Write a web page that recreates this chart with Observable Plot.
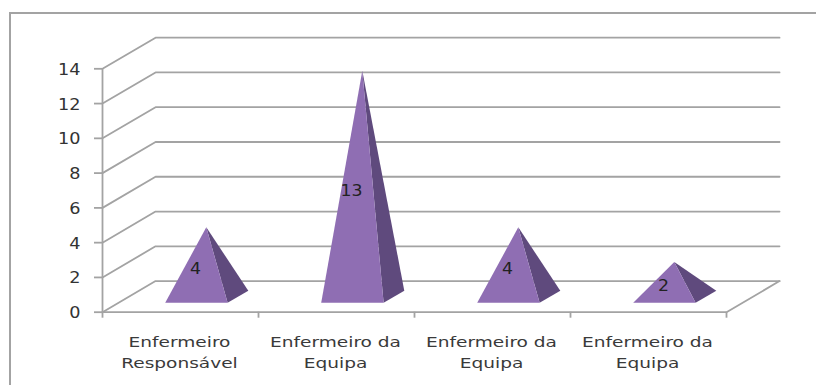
<!DOCTYPE html>
<html>
<head>
<meta charset="utf-8">
<script src="https://cdn.jsdelivr.net/npm/d3@7"></script>
<script src="https://cdn.jsdelivr.net/npm/@observablehq/plot@0.6"></script>
<style>
  html, body { margin: 0; padding: 0; background: #fff; }
  #chart { position: relative; width: 816px; height: 385px; overflow: hidden; }
  #outline { position: absolute; left: 9px; top: 12px; right: -4px; bottom: -4px;
             border-left: 2px solid #a3a3a3; border-top: 2px solid #a3a3a3; }
  #chart svg { position: absolute; left: 0; top: 0; }
</style>
</head>
<body>
<div id="chart"><div id="outline"></div></div>
<script>
// Survey results by nursing role
const categories = ["Enfermeiro\nResponsável", "Enfermeiro da\nEquipa", "Enfermeiro da\nEquipa", "Enfermeiro da\nEquipa"];
const values = [4, 13, 4, 2];
const valueTicks = [0, 2, 4, 6, 8, 10, 12, 14];
const slotTicks = [0, 1, 2, 3, 4];

// Oblique projection: one unit of depth shifts a point along both axes
const depthX = 0.34;
const depthY = 1.79;
const project = (slot, depth, value) => ({x: slot + depth * depthX, y: value + depth * depthY});

// Pyramid footprint inside its slot and its depth range
const inset = 0.3;
const front = 0.3;
const back = 0.69;
const apexSlot = 0.497;

const frontFaces = values.flatMap((v, i) => [
  project(i + inset, front, 0),
  project(i + 1 - inset, front, 0),
  project(i + apexSlot, (front + back) / 2, v)
].map(p => ({...p, id: i})));

const sideFaces = values.flatMap((v, i) => [
  project(i + 1 - inset, front, 0),
  project(i + 1 - inset, back, 0),
  project(i + apexSlot, (front + back) / 2, v)
].map(p => ({...p, id: i})));

// Wall and floor lines: each tick runs from the front plane to the back wall and across
const wallLines = valueTicks.flatMap(t => [
  {...project(0, 0, t), id: t},
  {...project(0, 1, t), id: t},
  {...project(4, 1, t), id: t}
]);
const floorEdge = [project(0, 0, 0), project(4, 0, 0), project(4, 1, 0)];

const labels = values.map((v, i) => ({...project(i + 0.5, front, v / 2), text: String(v)}));
const slotLabels = categories.map((c, i) => ({x: i + 0.5, y: 0, text: c}));

// Widens glyphs about their anchor point and nudges them vertically
const widen = (k, nudge = 0) => (index, scales, values, dims, context, next) => {
  const g = next(index, scales, values, dims, context);
  d3.select(g).selectAll("text").attr("transform", function () {
    return (this.getAttribute("transform") || "") + ` translate(0,${nudge}) scale(${k},1)`;
  });
  return g;
};

const gridColor = "#a3a3a3";
const plot = Plot.plot({
  width: 816,
  height: 385,
  marginLeft: 102,
  marginRight: 90,
  marginTop: 68.3,
  marginBottom: 73.3,
  style: {background: "transparent", fontFamily: "DejaVu Sans", overflow: "visible"},
  x: {type: "linear", domain: [0, 4]},
  y: {type: "linear", domain: [0, 14]},
  marks: [
    Plot.line(wallLines, {x: "x", y: "y", z: "id", stroke: gridColor, strokeWidth: 1.8}),
    Plot.line(floorEdge, {x: "x", y: "y", stroke: gridColor, strokeWidth: 1.8}),
    Plot.ruleX([0], {y1: 0, y2: 14, stroke: gridColor, strokeWidth: 1.8}),
    Plot.axisY(valueTicks, {
      anchor: "left", label: null, tickSize: 8, tickPadding: 14,
      stroke: gridColor, strokeWidth: 1.8, strokeOpacity: 1,
      fontSize: 15.5, color: "#333", render: widen(1.14, 1)
    }),
    Plot.axisX(slotTicks, {
      anchor: "bottom", label: null, tickSize: 6, tickFormat: () => "",
      stroke: gridColor, strokeWidth: 1.8, strokeOpacity: 1
    }),
    Plot.text(slotLabels, {
      x: "x", y: "y", text: "text", dx: -1, dy: 38.5, lineHeight: 1.45,
      fontSize: 14.5, fill: "#3a3a3a", render: widen(1.28)
    }),
    Plot.line(sideFaces, {x: "x", y: "y", z: "id", fill: "#5f4a7d", stroke: "none"}),
    Plot.line(frontFaces, {x: "x", y: "y", z: "id", fill: "#8f6eb3", stroke: "none"}),
    Plot.text(labels, {x: "x", y: "y", text: "text", dx: -1, dy: 1, fontSize: 15.5, fill: "#222", render: widen(1.12)})
  ]
});
document.getElementById("chart").appendChild(plot);
</script>
</body>
</html>
